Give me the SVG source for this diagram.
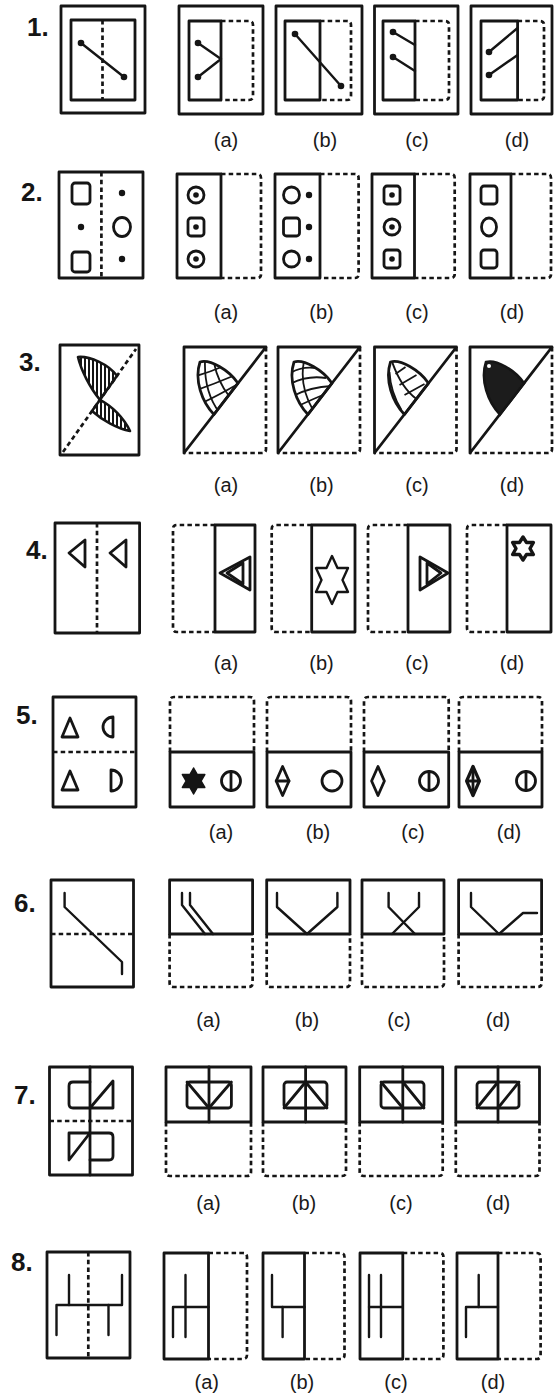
<svg xmlns="http://www.w3.org/2000/svg" width="554" height="1399" viewBox="0 0 554 1399">
<style>
.s{fill:none;stroke:#151515;stroke-width:2.8;stroke-linejoin:round;stroke-linecap:round}
.d{fill:none;stroke:#151515;stroke-width:2.7;stroke-dasharray:4.5 3.2}
.l{fill:none;stroke:#151515;stroke-width:2.4;stroke-linecap:round;stroke-linejoin:round}
.t{fill:none;stroke:#151515;stroke-width:1.8}
.k{fill:#151515}
.lb{font-family:"Liberation Sans",Arial,sans-serif;font-size:20px;text-anchor:middle;fill:#1a1a1a}
.n{font-family:"Liberation Sans",Arial,sans-serif;font-size:26px;font-weight:bold;fill:#151515}
</style>
<defs>
<pattern id="vs" width="4" height="10" patternUnits="userSpaceOnUse"><rect width="2" height="10" fill="#151515"/></pattern>
<clipPath id="lc"><path d="M200,362 C210,359 229,370 238,383.2 L214,414.5 C202,402 194,380 200,362 Z"/></clipPath>
<path id="leaf" d="M200,362 C210,359 229,370 238,383.2 L214,414.5 C202,402 194,380 200,362 Z"/>
</defs>
<rect width="554" height="1399" fill="#fff"/>

<!-- Row 1 -->
<g id="r1">
<text class="n" x="27" y="36">1.</text>
<g id="q1">
<rect class="s" x="61" y="6" width="84" height="107"/>
<rect class="s" x="71" y="20" width="64" height="80"/>
<line class="d" x1="102.5" y1="20" x2="102.5" y2="100"/>
<line class="l" x1="81" y1="43" x2="124" y2="77"/>
<circle class="k" cx="81" cy="43" r="3.3"/><circle class="k" cx="124" cy="77" r="3.3"/>
</g>
<g id="q1a">
<rect class="s" x="179" y="6" width="84" height="108"/>
<rect class="s" x="189" y="21" width="32" height="79"/>
<path class="d" d="M221,21 H249 Q253,21 253,25 V96 Q253,100 249,100 H221"/>
<path class="l" d="M198,43 L221,59 L198,77"/>
<circle class="k" cx="198" cy="43" r="3.3"/><circle class="k" cx="198" cy="77" r="3.3"/>
<text class="lb" x="226" y="147">(a)</text>
</g>
<g id="q1b">
<rect class="s" x="276" y="6" width="86" height="108"/>
<rect class="s" x="285" y="21" width="35" height="79"/>
<path class="d" d="M320,21 H347 Q351,21 351,25 V96 Q351,100 347,100 H320"/>
<line class="l" x1="295" y1="34" x2="341" y2="86"/>
<circle class="k" cx="295" cy="34" r="3.3"/><circle class="k" cx="341" cy="86" r="3.3"/>
<text class="lb" x="325" y="147">(b)</text>
</g>
<g id="q1c">
<rect class="s" x="374.5" y="6" width="83.5" height="108"/>
<rect class="s" x="383" y="21" width="32" height="79"/>
<path class="d" d="M415,21 H445 Q449,21 449,25 V96 Q449,100 445,100 H415"/>
<line class="l" x1="393" y1="32" x2="415" y2="45"/>
<line class="l" x1="393" y1="57" x2="415" y2="71"/>
<circle class="k" cx="393" cy="32" r="3.3"/><circle class="k" cx="393" cy="57" r="3.3"/>
<text class="lb" x="417" y="147">(c)</text>
</g>
<g id="q1d">
<rect class="s" x="471" y="6" width="81" height="108"/>
<rect class="s" x="481" y="21" width="36.6" height="79"/>
<path class="d" d="M517.6,21 H540 Q544,21 544,25 V96 Q544,100 540,100 H517.6"/>
<line class="l" x1="489" y1="52" x2="517.6" y2="28"/>
<line class="l" x1="489" y1="75" x2="517.6" y2="55"/>
<circle class="k" cx="489" cy="52" r="3.3"/><circle class="k" cx="489" cy="75" r="3.3"/>
<text class="lb" x="517" y="147">(d)</text>
</g>
</g>

<!-- Row 2 -->
<g id="r2">
<text class="n" x="21" y="201">2.</text>
<g id="q2">
<rect class="s" x="59" y="172" width="84" height="106"/>
<line class="d" x1="101.4" y1="172" x2="101.4" y2="278"/>
<rect class="s" x="72" y="183" width="18" height="21" rx="3"/>
<rect class="s" x="72" y="252" width="18" height="20" rx="3"/>
<circle class="k" cx="81" cy="227" r="3.2"/>
<circle class="k" cx="122" cy="193" r="3.2"/>
<ellipse class="s" cx="122" cy="227" rx="8.5" ry="9.5"/>
<circle class="k" cx="122" cy="259" r="3.2"/>
</g>
<g id="q2a">
<rect class="s" x="177" y="174" width="44" height="104"/>
<path class="d" d="M221,174 H257 Q261,174 261,178 V274 Q261,278 257,278 H221"/>
<circle class="s" cx="196" cy="195" r="8"/><circle class="k" cx="196" cy="195" r="2.8"/>
<rect class="s" x="188" y="218" width="16" height="18" rx="3"/><circle class="k" cx="196" cy="227" r="2.8"/>
<circle class="s" cx="196" cy="259" r="8"/><circle class="k" cx="196" cy="259" r="2.8"/>
<text class="lb" x="226" y="319">(a)</text>
</g>
<g id="q2b">
<rect class="s" x="275" y="174" width="45" height="104"/>
<path class="d" d="M320,174 H354.6 Q358.6,174 358.6,178 V274 Q358.6,278 354.6,278 H320"/>
<circle class="s" cx="291.5" cy="195" r="8"/><circle class="k" cx="309" cy="195" r="3.2"/>
<rect class="s" x="283.5" y="218" width="16" height="18" rx="3"/><circle class="k" cx="309" cy="227" r="3.2"/>
<circle class="s" cx="291.5" cy="259" r="8"/><circle class="k" cx="309" cy="259" r="3.2"/>
<text class="lb" x="321.5" y="319">(b)</text>
</g>
<g id="q2c">
<rect class="s" x="372" y="174" width="42.5" height="104"/>
<path class="d" d="M414.5,174 H450.7 Q454.7,174 454.7,178 V274 Q454.7,278 450.7,278 H414.5"/>
<rect class="s" x="384" y="186" width="16" height="18" rx="3"/><circle class="k" cx="392" cy="195" r="2.8"/>
<circle class="s" cx="392" cy="227" r="8"/><circle class="k" cx="392" cy="227" r="2.8"/>
<rect class="s" x="384" y="250" width="16" height="18" rx="3"/><circle class="k" cx="392" cy="259" r="2.8"/>
<text class="lb" x="417" y="319">(c)</text>
</g>
<g id="q2d">
<rect class="s" x="470" y="174" width="41" height="104"/>
<path class="d" d="M511,174 H547 Q551,174 551,178 V274 Q551,278 547,278 H511"/>
<rect class="s" x="481" y="186" width="16" height="18" rx="3"/>
<ellipse class="s" cx="489" cy="227" rx="7.5" ry="9"/>
<rect class="s" x="481" y="250" width="16" height="18" rx="3"/>
<text class="lb" x="512" y="319">(d)</text>
</g>
</g>

<!-- Row 3 -->
<g id="r3">
<text class="n" x="19" y="371">3.</text>
<g id="q3">
<rect class="s" x="60" y="345" width="79" height="110"/>
<line class="d" x1="63" y1="452" x2="136" y2="349"/>
<path d="M117,375.8 C108,364 90,356 78,357 C81,370 90,388 100,399.8 Z" fill="url(#vs)" stroke="#151515" stroke-width="2.6" stroke-linejoin="round"/>
<path d="M100,399.8 C112,406 124,418 130,431 C118,429 102,420 92,411 Z" fill="url(#vs)" stroke="#151515" stroke-width="2.6" stroke-linejoin="round"/>
</g>
<g id="q3a">
<path class="s" d="M184,453 V347 H266 L184,453"/>
<path class="d" d="M266,347 V449 Q266,453 262,453 H184"/>
<g clip-path="url(#lc)" class="t">
<path d="M205,361 Q204,392 219,412"/><path d="M214,363 Q218,382 229,396"/>
<path d="M196,376 Q210,372 224,366"/><path d="M197,390 Q214,384 233,376"/><path d="M202,403 Q217,396 238,384"/>
</g>
<use href="#leaf" class="s"/>
<text class="lb" x="226" y="492">(a)</text>
</g>
<g id="q3b" transform="translate(94,0)">
<path class="s" d="M184,453 V347 H266 L184,453"/>
<path class="d" d="M266,347 V449 Q266,453 262,453 H184"/>
<g clip-path="url(#lc)" class="t">
<path d="M196,373 Q208,366 222,368"/><path d="M196,384 Q213,375 232,378"/><path d="M199,396 Q216,387 238,386"/><path d="M204,406 Q219,399 236,392"/>
<path d="M210,361 Q205,386 219,410"/>
</g>
<use href="#leaf" class="s"/>
<text class="lb" x="227.5" y="492">(b)</text>
</g>
<g id="q3c" transform="translate(190.5,0)">
<path class="s" d="M184,453 V347 H266 L184,453"/>
<path class="d" d="M266,347 V449 Q266,453 262,453 H184"/>
<g clip-path="url(#lc)" class="t">
<path d="M202,363 Q211,388 226,399" stroke-width="2"/>
<path d="M199,372 Q200,392 211,410"/>
<path d="M205,374 L215,367"/><path d="M209,385 L226,375"/><path d="M214,395 L234,384"/>
</g>
<use href="#leaf" class="s"/>
<text class="lb" x="226.5" y="492">(c)</text>
</g>
<g id="q3d" transform="translate(286,0)">
<path class="s" d="M184,453 V347 H266 L184,453"/>
<path class="d" d="M266,347 V449 Q266,453 262,453 H184"/>
<use href="#leaf" fill="#1c1c1c" stroke="#151515" stroke-width="2.6"/>
<circle cx="203" cy="366" r="2" fill="#fff"/>
<text class="lb" x="226" y="492">(d)</text>
</g>
</g>

<!-- Row 4 -->
<g id="r4">
<text class="n" x="26" y="559">4.</text>
<g id="q4">
<rect class="s" x="55" y="523" width="84.6" height="110"/>
<line class="d" x1="97" y1="523" x2="97" y2="633"/>
<path class="s" d="M69,553 L85,540 L85,567 Z"/>
<path class="s" d="M110,553 L126,540 L126,567 Z"/>
</g>
<g id="q4a">
<path class="d" d="M215,525 H177 Q173,525 173,529 V628 Q173,632 177,632 H215"/>
<rect class="s" x="215" y="525" width="40" height="107"/>
<path class="s" d="M220,573 L250,557 L250,590 Z"/>
<path class="s" d="M227,573 L243,563 L243,584 Z"/>
<text class="lb" x="226" y="670">(a)</text>
</g>
<g id="q4b">
<path class="d" d="M311.7,525 H275.7 Q271.7,525 271.7,529 V628 Q271.7,632 275.7,632 H311.7"/>
<rect class="s" x="311.7" y="525" width="43.3" height="107"/>
<path class="l" d="M332,556 L337.5,568 L348,568 L342.5,580 L348,592 L337.5,592 L332,604 L326.5,592 L316,592 L321.5,580 L316,568 L326.5,568 Z"/>
<text class="lb" x="321.5" y="670">(b)</text>
</g>
<g id="q4c">
<path class="d" d="M408,525 H372 Q368,525 368,529 V628 Q368,632 372,632 H408"/>
<rect class="s" x="408" y="525" width="42" height="107"/>
<path class="s" d="M448,573 L420,557 L420,590 Z"/>
<path class="s" d="M441,573 L427,563 L427,584 Z"/>
<text class="lb" x="417" y="670">(c)</text>
</g>
<g id="q4d">
<path class="d" d="M507,525 H471 Q467,525 467,529 V628 Q467,632 471,632 H507"/>
<rect class="s" x="507" y="525" width="44" height="107"/>
<path d="M523,537 L526.5,542.5 L533.4,542.5 L530,548.5 L533.4,554.5 L526.5,554.5 L523,560 L519.5,554.5 L512.6,554.5 L516,548.5 L512.6,542.5 L519.5,542.5 Z" fill="none" stroke="#151515" stroke-width="3.4" stroke-linejoin="round"/>
<text class="lb" x="512" y="670">(d)</text>
</g>
</g>

<!-- Row 5 -->
<g id="r5">
<text class="n" x="16" y="724">5.</text>
<g id="q5">
<rect class="s" x="53" y="697" width="83" height="110"/>
<line class="d" x1="53" y1="752" x2="136" y2="752"/>
<path class="s" d="M62,737 L70,718 L78,737 Z"/>
<path class="s" d="M113,717 A10,10 0 0 0 113,737 Z"/>
<path class="s" d="M62,790 L70,771 L78,790 Z"/>
<path class="s" d="M111,770 A10.5,10.5 0 0 1 111,791 Z"/>
</g>
<g id="q5a">
<path class="d" d="M170,752 V701 Q170,697 174,697 H250 Q254,697 254,701 V752"/>
<rect class="s" x="170" y="752" width="84" height="55"/>
<path class="k" stroke="#151515" stroke-width="1.5" stroke-linejoin="round" d="M193.6,768 L197.3,774.5 L204.8,774.5 L201,781 L204.8,787.5 L197.3,787.5 L193.6,794 L189.9,787.5 L182.4,787.5 L186.2,781 L182.4,774.5 L189.9,774.5 Z"/>
<circle class="s" cx="231" cy="781" r="9.5"/><line class="s" x1="231" y1="771.5" x2="231" y2="790.5"/>
<text class="lb" x="221" y="839">(a)</text>
</g>
<g id="q5b">
<path class="d" d="M267,752 V701 Q267,697 271,697 H347 Q351,697 351,701 V752"/>
<rect class="s" x="267" y="752" width="84" height="55"/>
<path class="s" d="M282.6,766.5 L289,781 L282.6,795.5 L276.2,781 Z"/><line class="s" x1="276.2" y1="781" x2="289" y2="781"/>
<circle class="s" cx="332" cy="781" r="10"/>
<text class="lb" x="318" y="839">(b)</text>
</g>
<g id="q5c">
<path class="d" d="M364,752 V701 Q364,697 368,697 H444.7 Q448.7,697 448.7,701 V752"/>
<rect class="s" x="364" y="752" width="84.7" height="55"/>
<path class="s" d="M378,766.5 L384.4,781 L378,795.5 L371.6,781 Z"/>
<circle class="s" cx="429" cy="781" r="9.5"/><line class="s" x1="429" y1="771.5" x2="429" y2="790.5"/>
<text class="lb" x="413" y="839">(c)</text>
</g>
<g id="q5d">
<path class="d" d="M459,752 V701 Q459,697 463,697 H538 Q542,697 542,701 V752"/>
<rect class="s" x="459" y="752" width="83" height="55"/>
<path d="M473,766.5 L479.4,781 L473,795.5 L466.6,781 Z" fill="none" stroke="#151515" stroke-width="3.2" stroke-linejoin="round"/>
<path d="M466.6,781 H479.4 M473,766.5 V795.5" stroke="#151515" stroke-width="2.8"/>
<circle class="s" cx="526" cy="781" r="9.5"/><line class="s" x1="526" y1="771.5" x2="526" y2="790.5"/>
<text class="lb" x="509" y="839">(d)</text>
</g>
</g>

<!-- Row 6 -->
<g id="r6">
<text class="n" x="14" y="912">6.</text>
<g id="q6">
<rect class="s" x="51" y="880" width="82.5" height="107"/>
<line class="d" x1="51" y1="934" x2="133.5" y2="934"/>
<path class="l" d="M64.6,893 V907 L122,962 V974"/>
</g>
<g id="q6a">
<rect class="s" x="169.6" y="880" width="83" height="54"/>
<path class="d" d="M169.6,934 V983 Q169.6,987 173.6,987 H248.6 Q252.6,987 252.6,983 V934"/>
<path class="l" d="M182,893 V905 L205,934"/>
<path class="l" d="M190,893 V905 L213,934"/>
<text class="lb" x="208.5" y="1027">(a)</text>
</g>
<g id="q6b">
<rect class="s" x="266.7" y="880" width="83.3" height="54"/>
<path class="d" d="M266.7,934 V983 Q266.7,987 270.7,987 H346 Q350,987 350,983 V934"/>
<path class="l" d="M277,893 V907 L307,934 L337.4,907 V893"/>
<text class="lb" x="307" y="1027">(b)</text>
</g>
<g id="q6c">
<rect class="s" x="362" y="880" width="82" height="54"/>
<path class="d" d="M362,934 V983 Q362,987 366,987 H440 Q444,987 444,983 V934"/>
<path class="l" d="M388.6,893 V907 L415,934"/>
<path class="l" d="M419,893 V907 L392,934"/>
<text class="lb" x="399" y="1027">(c)</text>
</g>
<g id="q6d">
<rect class="s" x="458.6" y="880" width="83" height="54"/>
<path class="d" d="M458.6,934 V983 Q458.6,987 462.6,987 H537.6 Q541.6,987 541.6,983 V934"/>
<path class="l" d="M471,893 V907 L499,934 L523,913 H537"/>
<text class="lb" x="498" y="1027">(d)</text>
</g>
</g>

<!-- Row 7 -->
<g id="r7">
<text class="n" x="14" y="1104">7.</text>
<g id="q7">
<rect class="s" x="49.5" y="1067" width="83" height="108"/>
<line class="s" x1="90" y1="1067" x2="90" y2="1175"/>
<line class="d" x1="49.5" y1="1121" x2="132.5" y2="1121"/>
<path class="s" d="M90,1082 H73 Q69,1082 69,1086 V1104 Q69,1108 73,1108 H90"/>
<path class="s" d="M90,1108 L113,1081 V1108 Z"/>
<path class="s" d="M90,1133 H69 V1160 Z"/>
<path class="s" d="M90,1133 H109 Q113,1133 113,1137 V1156 Q113,1160 109,1160 H90"/>
</g>
<g id="q7a">
<rect class="s" x="166" y="1067" width="85" height="55"/>
<path class="d" d="M166,1122 V1172 Q166,1176 170,1176 H247 Q251,1176 251,1172 V1122"/>
<line class="s" x1="209" y1="1067" x2="209" y2="1122"/>
<rect class="s" x="187" y="1082" width="44.4" height="26" rx="3"/>
<path class="s" d="M187,1082 L209,1108 L231.4,1082"/>
<text class="lb" x="208.5" y="1210">(a)</text>
</g>
<g id="q7b">
<rect class="s" x="263" y="1067" width="83" height="55"/>
<path class="d" d="M263,1122 V1172 Q263,1176 267,1176 H342 Q346,1176 346,1172 V1122"/>
<line class="s" x1="305.6" y1="1067" x2="305.6" y2="1122"/>
<rect class="s" x="284" y="1082" width="43" height="26" rx="3"/>
<path class="s" d="M284,1108 L305.6,1082 L327,1108"/>
<text class="lb" x="304" y="1210">(b)</text>
</g>
<g id="q7c">
<rect class="s" x="359.7" y="1067" width="83" height="55"/>
<path class="d" d="M359.7,1122 V1172 Q359.7,1176 363.7,1176 H438.7 Q442.7,1176 442.7,1172 V1122"/>
<line class="s" x1="402.8" y1="1067" x2="402.8" y2="1122"/>
<rect class="s" x="381" y="1082" width="43" height="26" rx="3"/>
<path class="s" d="M381,1082 L402.8,1108 M402.8,1082 L424,1108"/>
<text class="lb" x="401" y="1210">(c)</text>
</g>
<g id="q7d">
<rect class="s" x="455.8" y="1067" width="83.7" height="55"/>
<path class="d" d="M455.8,1122 V1172 Q455.8,1176 459.8,1176 H535.5 Q539.5,1176 539.5,1172 V1122"/>
<line class="s" x1="498" y1="1067" x2="498" y2="1122"/>
<rect class="s" x="477" y="1082" width="42" height="26" rx="3"/>
<path class="s" d="M477,1108 L498,1082 M498,1108 L519,1082"/>
<text class="lb" x="498" y="1210">(d)</text>
</g>
</g>

<!-- Row 8 -->
<g id="r8">
<text class="n" x="11" y="1271">8.</text>
<g id="q8">
<rect class="s" x="47" y="1252" width="83" height="106"/>
<line class="d" x1="88.3" y1="1252" x2="88.3" y2="1358"/>
<path class="l" d="M56.5,1335 V1305 H122 V1275"/>
<line class="l" x1="69" y1="1275" x2="69" y2="1305"/>
<line class="l" x1="108.5" y1="1305" x2="108.5" y2="1335"/>
</g>
<g id="q8a">
<rect class="s" x="164" y="1253" width="44.5" height="106"/>
<path class="d" d="M208.5,1253 H243 Q247,1253 247,1257 V1355 Q247,1359 243,1359 H208.5"/>
<path class="l" d="M173,1337 V1307 H208.5"/>
<line class="l" x1="185.5" y1="1275" x2="185.5" y2="1337"/>
<text class="lb" x="206.7" y="1389">(a)</text>
</g>
<g id="q8b">
<rect class="s" x="263" y="1253" width="41.5" height="106"/>
<path class="d" d="M304.5,1253 H340.5 Q344.5,1253 344.5,1257 V1355 Q344.5,1359 340.5,1359 H304.5"/>
<path class="l" d="M272,1275 V1307 H304.5"/>
<line class="l" x1="282.6" y1="1307" x2="282.6" y2="1337"/>
<text class="lb" x="302" y="1389">(b)</text>
</g>
<g id="q8c">
<rect class="s" x="360" y="1253" width="42.8" height="106"/>
<path class="d" d="M402.8,1253 H439.4 Q443.4,1253 443.4,1257 V1355 Q443.4,1359 439.4,1359 H402.8"/>
<line class="l" x1="369" y1="1275" x2="369" y2="1337"/>
<line class="l" x1="381" y1="1275" x2="381" y2="1337"/>
<line class="l" x1="369" y1="1307" x2="402.8" y2="1307"/>
<text class="lb" x="396" y="1389">(c)</text>
</g>
<g id="q8d">
<rect class="s" x="457" y="1253" width="41" height="106"/>
<path class="d" d="M498,1253 H536.6 Q540.6,1253 540.6,1257 V1355 Q540.6,1359 536.6,1359 H498"/>
<path class="l" d="M466,1337 V1307 H498"/>
<line class="l" x1="478.7" y1="1275" x2="478.7" y2="1307"/>
<text class="lb" x="493" y="1389">(d)</text>
</g>
</g>
</svg>
